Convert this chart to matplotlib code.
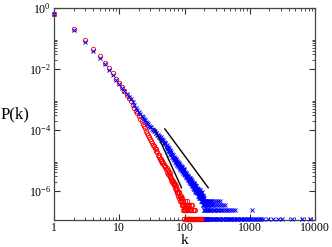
import matplotlib
matplotlib.use('Agg')
import matplotlib.pyplot as plt
from matplotlib.ticker import FixedLocator, FixedFormatter, NullFormatter

plt.rcParams['font.family'] = ['Liberation Serif', 'DejaVu Serif']
plt.rcParams['mathtext.fontset'] = 'custom'
plt.rcParams['mathtext.rm'] = 'Liberation Serif'

N_NODES = 8.6e6

# ---- red series (circles) ----
red_k_head = list(range(1, 61))
red_logp_head = [-0.19, -0.70, -1.05, -1.33, -1.57, -1.80, -1.98, -2.15, -2.32, -2.47,
                 -2.60, -2.72, -2.84, -2.95, -3.06, -3.17, -3.27, -3.37, -3.46, -3.55,
                 -3.64, -3.72, -3.80, -3.88, -3.95, -4.03, -4.10, -4.17, -4.24, -4.30,
                 -4.37, -4.42, -4.50, -4.53, -4.61, -4.64, -4.71, -4.74, -4.81, -4.84,
                 -4.88, -4.95, -4.95, -5.02, -5.02, -5.09, -5.08, -5.16, -5.15, -5.22,
                 -5.20, -5.30, -5.26, -5.38, -5.32, -5.44, -5.37, -5.49, -5.43, -5.53]
red_k_mid = list(range(61, 101))
red_cnt_mid = [24, 20, 22, 17, 20, 15, 18, 14, 16, 13,
               14, 11, 12, 9, 11, 8, 10, 7, 8, 6,
               8, 5, 7, 6, 4, 6, 5, 4, 6, 3,
               5, 3, 4, 2, 4, 3, 2, 3, 1, 2]
red_k_tail = [101, 102, 103, 104, 105, 106, 107, 108, 109, 110, 111, 112, 113, 114, 115,
              116, 117, 118, 119, 120, 121, 122, 124, 125, 127, 128, 130, 131, 133, 135,
              138, 140, 144, 146, 150, 155, 160, 166, 172, 180, 188, 195, 205, 215, 228]
red_cnt_tail = [3, 2, 4, 3, 1, 2, 1, 4, 2, 3, 1, 1, 3, 1, 2,
                1, 1, 3, 1, 2, 1, 2, 1, 3, 2, 1, 3, 1, 2, 1,
                2, 1, 2, 1, 1, 1, 1, 1, 1, 1, 1, 1, 1, 1, 1]

# ---- blue series (crosses) ----
blue_k_head = list(range(1, 101))
blue_logp_head = [-0.19, -0.73, -1.12, -1.42, -1.63, -1.85, -2.03, -2.20, -2.36, -2.50,
                  -2.62, -2.72, -2.82, -2.91, -3.00, -3.09, -3.18, -3.27, -3.35, -3.42,
                  -3.48, -3.53, -3.59, -3.64, -3.68, -3.73, -3.78, -3.82, -3.86, -3.90,
                  -3.92, -3.98, -3.99, -4.05, -4.05, -4.11, -4.11, -4.17, -4.16, -4.22,
                  -4.20, -4.28, -4.25, -4.33, -4.30, -4.38, -4.34, -4.42, -4.40, -4.47,
                  -4.43, -4.56, -4.50, -4.62, -4.55, -4.68, -4.60, -4.73, -4.66, -4.78,
                  -4.70, -4.82, -4.74, -4.88, -4.79, -4.92, -4.84, -4.97, -4.88, -5.00,
                  -4.92, -5.05, -4.96, -5.08, -4.99, -5.12, -5.03, -5.15, -5.06, -5.18,
                  -5.08, -5.22, -5.12, -5.25, -5.14, -5.28, -5.18, -5.31, -5.21, -5.33,
                  -5.22, -5.36, -5.26, -5.40, -5.29, -5.42, -5.30, -5.44, -5.33, -5.46]
blue_k_mid = list(range(101, 201))
blue_cnt_mid = [36, 28, 31, 25, 34, 27, 30, 24, 29, 22,
                27, 21, 24, 19, 26, 20, 23, 17, 22, 19,
                22, 16, 19, 14, 21, 17, 15, 19, 13, 17,
                18, 12, 15, 14, 11, 16, 12, 14, 10, 13,
                15, 10, 12, 9, 13, 11, 8, 12, 10, 9,
                12, 8, 10, 7, 11, 9, 8, 10, 6, 9,
                10, 7, 8, 6, 9, 7, 5, 8, 6, 7,
                9, 5, 7, 6, 8, 4, 7, 5, 6, 7,
                5, 7, 4, 6, 5, 8, 4, 6, 3, 5,
                6, 4, 5, 3, 6, 4, 2, 5, 3, 4]
blue_k_cnt4 = [203, 208, 214, 221, 229, 236, 245, 256, 268, 283, 300, 322, 348]
blue_k_cnt3 = [205, 211, 218, 226, 233, 241, 252, 262, 275, 290, 310, 335, 360, 388, 412]
blue_k_cnt2 = [202, 207, 213, 219, 224, 231, 239, 248, 258, 270, 285, 296, 315, 330, 342,
               365, 380, 400, 425, 450, 480, 510, 545, 590, 1080]
blue_k_cnt1 = [204, 210, 216, 223, 228, 235, 243, 250, 260, 272, 280, 292, 305, 318, 328,
               340, 355, 370, 385, 395, 410, 430, 445, 460, 475, 495, 520, 540, 565, 580,
               610, 640, 670, 700, 735, 770, 810, 850, 900, 950, 1000, 1060, 1120, 1190,
               1260, 1340, 1420, 1510, 1590, 1890, 2270, 2700, 3100, 4400, 6300, 8300]

# ---- guide lines ----
line1_k = [35, 90]
line1_logp = [-3.97, -5.90]
line2_k = [50, 231]
line2_logp = [-3.97, -5.90]

# ---- tick labels ----
x_major = [1, 10, 100, 1000, 10000]
x_labels = ['1', '10', '100', '1000', '10000']
y_major_exp = [0, -2, -4, -6]
y_minor_exp = [-2, -4, -6]

# assemble
red_k = red_k_head + red_k_mid + red_k_tail
red_p = ([10 ** v for v in red_logp_head] + [c / N_NODES for c in red_cnt_mid]
         + [c / N_NODES for c in red_cnt_tail])
blue_k = (blue_k_head + blue_k_mid + blue_k_cnt4 + blue_k_cnt3 + blue_k_cnt2 + blue_k_cnt1)
blue_p = ([10 ** v for v in blue_logp_head] + [c / N_NODES for c in blue_cnt_mid]
          + [4 / N_NODES] * len(blue_k_cnt4) + [3 / N_NODES] * len(blue_k_cnt3)
          + [2 / N_NODES] * len(blue_k_cnt2) + [1 / N_NODES] * len(blue_k_cnt1))

fig = plt.figure(figsize=(3.32, 2.47), dpi=100)
ax = fig.add_axes([54 / 332, 1 - 220 / 247, 261 / 332, 212 / 247])

ax.plot(red_k, red_p, linestyle='none', marker='o', markersize=3.2, markerfacecolor='none',
        markeredgecolor='#ff0000', markeredgewidth=0.6, clip_on=False, zorder=3)
ax.plot(blue_k, blue_p, linestyle='none', marker='x', markersize=2.6,
        markeredgecolor='#0000ff', markeredgewidth=0.7, clip_on=False, zorder=4)
ax.plot(line1_k, [10 ** v for v in line1_logp], color='black', linewidth=1.0, zorder=5)
ax.plot(line2_k, [10 ** v for v in line2_logp], color='black', linewidth=1.0, zorder=5)

ax.set_xscale('log')
ax.set_yscale('log')
ax.set_xlim(1, 10000)
ax.set_ylim(10 ** -6.96, 1)

ax.xaxis.set_major_locator(FixedLocator(x_major))
ax.xaxis.set_major_formatter(FixedFormatter(x_labels))
ax.xaxis.set_minor_locator(FixedLocator([m * 10 ** e for e in range(0, 4) for m in range(2, 10)]))
ax.xaxis.set_minor_formatter(NullFormatter())
ax.yaxis.set_major_locator(FixedLocator([10.0 ** e for e in y_major_exp]))
ax.yaxis.set_major_formatter(FixedFormatter([r'$\mathregular{10^{%d}}$' % e for e in y_major_exp]))
ax.yaxis.set_minor_locator(FixedLocator([m * 10.0 ** e for e in y_minor_exp for m in range(2, 10)]))
ax.yaxis.set_minor_formatter(NullFormatter())

ax.tick_params(which='both', direction='in', top=True, right=True, colors='#333333',
               labelcolor='black', labelsize=8.5)
ax.tick_params(axis='x', pad=1.5)
ax.tick_params(axis='y', pad=2)
ax.tick_params(which='major', length=4.5, width=0.8)
ax.tick_params(which='minor', length=2.5, width=0.6)
for s in ax.spines.values():
    s.set_linewidth(0.9)
    s.set_color('#444444')

ax.set_xlabel('k', fontsize=11)
ax.xaxis.set_label_coords(0.5, -0.113)
ax.xaxis.label.set_va('baseline')
ax.set_ylabel('P(k)', fontsize=12, rotation=0)
ax.yaxis.set_label_coords(-0.15, 0.5)
ax.yaxis.label.set_va('center')
ax.yaxis.label.set_ha('center')

fig.savefig('out.png', dpi=100)
